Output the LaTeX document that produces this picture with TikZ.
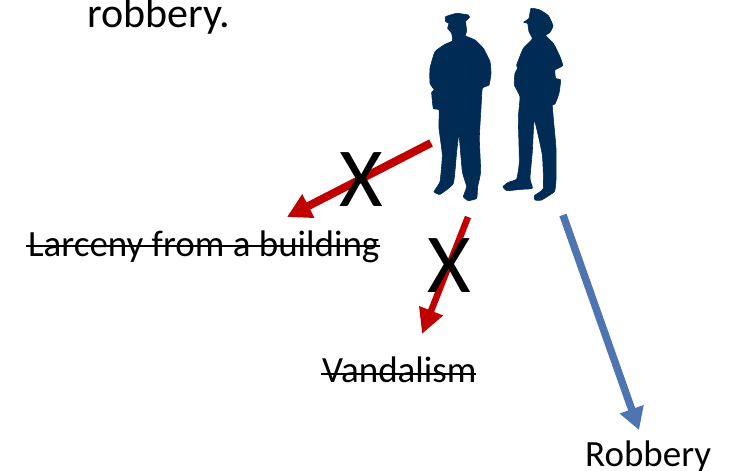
\documentclass[tikz,border=0pt]{standalone}
\usepackage{fontspec}
\setmainfont{Carlito}
\usetikzlibrary{arrows.meta}
\definecolor{navy}{HTML}{002B54}
\definecolor{redarrow}{HTML}{C00000}
\definecolor{bluearrow}{HTML}{4F74B2}
\tikzset{
  x=1pt,y=-1pt,
  label text/.style={inner sep=0pt,anchor=base west,font=\fontsize{37}{40}\selectfont,text=black},
  cross/.style={inner sep=0pt,font=\fontsize{84}{90}\selectfont,text=black},
  strike/.style={black,line width=2pt},
  red link/.style={redarrow,line width=8pt,-{Triangle[length=24pt,width=25pt]}},
  red link thin/.style={redarrow,line width=6.5pt,-{Triangle[length=25pt,width=24pt]}},
  blue link/.style={bluearrow,line width=7.5pt,-{Triangle[length=22pt,width=24pt]}},
  officer/.style={fill=navy,draw=navy,line width=.6pt,line join=round}
}
\begin{document}
\begin{tikzpicture}
\useasboundingbox (0,0) rectangle (734,471);
\clip (0,0) rectangle (734,471);
% officers
\begin{scope}[shift={(425,5)},x=0.3333pt,y=-0.3333pt]
\fill[officer] plot[smooth cycle,tension=.25] coordinates {
(62,35)(95,25)(130,30)(133,38)(122,48)(125,80)(120,92)(150,105)(175,130)(195,170)(198,205)(192,240)(172,250)(168,310)(163,400)(167,500)(158,545)(155,580)(130,587)(115,575)(125,545)(112,500)(102,390)(95,440)(85,535)(45,568)(27,560)(45,530)(52,450)(42,370)(42,315)(25,310)(20,262)(28,255)(15,235)(15,190)(30,140)(60,118)(82,108)(80,85)(68,70)(72,55)(62,50)};
\fill[officer] plot[smooth cycle,tension=.25] coordinates {
(318,10)(345,15)(370,32)(384,62)(375,82)(362,92)(385,115)(405,155)(413,182)(390,195)(392,220)(407,225)(402,265)(390,297)(382,300)(385,340)(393,430)(393,525)(388,560)(350,585)(330,585)(328,572)(355,550)(352,450)(328,345)(322,440)(315,520)(322,550)(290,553)(245,557)(234,545)(250,532)(275,522)(283,470)(280,340)(285,275)(268,240)(270,205)(278,190)(275,180)(295,130)(322,102)(312,80)(308,55)(296,52)(312,40)};
\end{scope}
% texts
\node[label text,font=\fontsize{42}{46}\selectfont] (robbery1) at (87,27.5) {robbery.};
\node[label text] (larceny) at (28,256) {Larceny from a building};
\node[label text] (vandal) at (322,382.5) {Vandalism};
\node[label text] (robbery2) at (585,466) {Robbery};
% strike-through
\coordinate (ls) at (26,246); \coordinate (le) at (380,246);
\coordinate (vs) at (321,374); \coordinate (ve) at (476,374);
\draw[strike] (ls) -- (le);
\draw[strike] (vs) -- (ve);
% arrows
\coordinate (a1s) at (431,143); \coordinate (a1e) at (287,217);
\coordinate (a2s) at (468,217); \coordinate (a2e) at (422,334);
\coordinate (a3s) at (563,215); \coordinate (a3e) at (639,430);
\draw[red link] (a1s) -- (a1e);
\draw[red link thin] (a2s) -- (a2e);
\draw[blue link] (a3s) -- (a3e);
% crosses
\node[cross] (x1) at (361,180) {X};
\node[cross] (x2) at (449.5,266) {X};
\end{tikzpicture}
\end{document}
